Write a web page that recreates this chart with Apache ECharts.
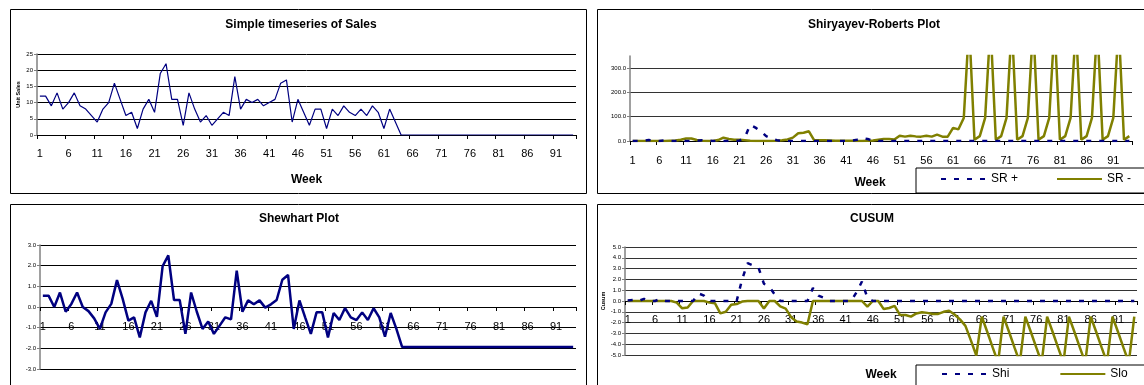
<!DOCTYPE html>
<html>
<head>
<meta charset="utf-8">
<script src="https://cdn.jsdelivr.net/npm/echarts@6/dist/echarts.min.js"></script>
<style>
html,body{margin:0;padding:0;background:#fff;}
#chart{width:1144px;height:385px;}
</style>
</head>
<body>
<div id="chart"></div>
<script>
// ---- Data ----
const weeks = [1,2,3,4,5,6,7,8,9,10,11,12,13,14,15,16,17,18,19,20,21,22,23,24,25,26,27,28,29,30,31,32,33,34,35,36,37,38,39,40,41,42,43,44,45,46,47,48,49,50,51,52,53,54,55,56,57,58,59,60,61,62,63,64,65,66,67,68,69,70,71,72,73,74,75,76,77,78,79,80,81,82,83,84,85,86,87,88,89,90,91,92,93,94];

const sales = [12,12,9,13,8,10,13,9,8,6, 4,8,10,16,11,6,7,2,8,11, 7,19,22,11,11,3,13,8,4,6, 3,5,7,6,18,8,11,10,11,9, 10,11,16,17,4,11,7,3,8,8, 2,8,6,9,7,6,8,6,9,7, 2,8,4,0,0,0,0,0,0,0, 0,0,0,0,0,0,0,0,0,0, 0,0,0,0,0,0,0,0,0,0, 0,0,0,0];

const shewhart = [0.55,0.55,0.0,0.7,-0.23,0.15,0.7,0.0,-0.2,-0.55, -1.06,-0.26,0.15,1.3,0.39,-0.66,-0.5,-1.47,-0.26,0.3, -0.48,1.97,2.5,0.34,0.34,-1.3,0.7,-0.23,-1.06,-0.7, -1.3,-0.9,-0.5,-0.6,1.76,-0.23,0.32,0.13,0.32,-0.03, 0.13,0.34,1.32,1.55,-1.06,0.32,-0.5,-1.3,-0.26,-0.26, -1.47,-0.29,-0.63,-0.05,-0.5,-0.63,-0.26,-0.63,-0.06,-0.5, -1.44,-0.29,-1.06,-1.93,-1.93,-1.93,-1.93,-1.93,-1.93,-1.93, -1.93,-1.93,-1.93,-1.93,-1.93,-1.93,-1.93,-1.93,-1.93,-1.93, -1.93,-1.93,-1.93,-1.93,-1.93,-1.93,-1.93,-1.93,-1.93,-1.93, -1.93,-1.93,-1.93,-1.93];

const srPlus = [0,0,1,4,2,0,2,0,0,0, 0,0,1,3,2,0,0,0,0,0, 2,15,66,55,40,20,10,3,0,0, 0,0,0,0,0,0,0,0,0,0, 0,1,5,12,8,1,0,0,0,0, 0,0,0,0,0,0,0,0,0,0, 0,0,0,0,0,0,0,0,0,0, 0,0,0,0,0,0,0,0,0,0, 0,0,0,0,0,0,0,0,0,0, 0,0,0,0];

const srMinus = [0,0,0,0,0,0,0,1,2,5, 10,10,4,1,0,0,4,14,8,5, 5,3,1,0,0,0,0,1,3,6, 14,32,34,40,3,3,3,2,1,1, 1,1,0,0,1,2,5,8,8,6, 22,18,22,19,18,22,18,26,18,18, 54,48,95,480,5,20,95,480,5,20, 95,480,5,20,95,480,5,20,95,480, 5,20,95,480,5,20,95,480,5,20, 95,480,5,20];

const shi = [0.05,0.1,0,0.2,0,0,0.2,0,0,0, 0,0,0,0.7,0.5,0,0,0,0,0, 0,2.0,3.5,3.3,3.1,1.6,1.3,0.6,0,0, 0,0,0,0,1.2,0.5,0.3,0,0,0, 0,0,0.8,1.8,0.3,0,0,0,0,0, 0,0,0,0,0,0,0,0,0,0, 0,0,0,0,0,0,0,0,0,0, 0,0,0,0,0,0,0,0,0,0, 0,0,0,0,0,0,0,0,0,0, 0,0,0,0];

const slo = [0,0,0,0,0,0,0,0,0,-0.15, -0.68,-0.6,0,0,0,-0.15,-0.2,-1.15,-1.0,-0.35, -0.28,-0.05,0,0,0,-0.7,0,0,-0.5,-0.7, -1.5,-1.9,-2.0,-2.15,0,0,0,0,0,0, 0,0,0,0,-0.52,0,0,-0.75,-0.65,-0.45, -1.3,-1.3,-1.45,-1.15,-1.05,-1.1,-1.2,-1.2,-1.0,-0.9, -1.25,-1.7,-2.3,-3.65,-5.05,-1.45,-2.85,-4.3,-5.7,-1.45, -2.85,-4.3,-5.7,-1.45,-2.85,-4.3,-5.7,-1.45,-2.85,-4.3, -5.7,-1.45,-2.85,-4.3,-5.7,-1.45,-2.85,-4.3,-5.7,-1.45, -2.85,-4.3,-5.7,-1.45];

const yTicksSR = [0,100,200,300];

// ---- Styling ----
const FONT = '"Liberation Sans", Arial, sans-serif';
const NAVY = '#000080';
const OLIVE = '#808000';

// grid boxes (plot areas)
const G = [
  { left: 37, top: 54, width: 539, height: 81 },
  { left: 630, top: 56, width: 502, height: 85 },
  { left: 40, top: 245, width: 536, height: 124 },
  { left: 625, top: 247, width: 512, height: 108 }
];

function xAxisCfg(gridIndex, margin, opts) {
  return Object.assign({
    type: 'category', gridIndex: gridIndex, data: weeks, boundaryGap: true, position: 'bottom',
    axisLine: { show: true, onZero: false, lineStyle: { color: '#000', width: 1 } },
    axisTick: { show: true, interval: 4, length: 4, lineStyle: { color: '#000' } },
    axisLabel: { interval: 4, fontSize: 11, color: '#000', margin: margin, fontFamily: FONT },
    splitLine: { show: false }
  }, opts || {});
}
function yAxisCfg(gridIndex, min, max, interval, digits, gridColor, opts) {
  return Object.assign({
    type: 'value', gridIndex: gridIndex, min: min, max: max, interval: interval,
    axisLine: { show: true, lineStyle: { color: '#808080', width: 1.5 } },
    axisTick: { show: true, length: 3, lineStyle: { color: '#808080' } },
    axisLabel: { fontSize: 6, color: '#000', margin: 4, fontFamily: FONT,
      formatter: v => v.toFixed(digits) },
    splitLine: { show: true, lineStyle: { color: gridColor, width: 1 } }
  }, opts || {});
}

const weekName = (gap, pad) => ({
  name: 'Week', nameLocation: 'middle', nameGap: gap,
  nameTextStyle: { fontSize: 12, fontWeight: 'bold', color: '#000', fontFamily: FONT, padding: pad || 0 }
});

const titleStyle = { fontSize: 12, fontWeight: 'bold', color: '#000', fontFamily: FONT };

const option = {
  backgroundColor: '#fff',
  animation: false,
  textStyle: { fontFamily: FONT },
  title: [
    { text: 'Simple timeseries of Sales', left: 301, top: 19, textAlign: 'center', padding: 0, textStyle: titleStyle },
    { text: 'Shiryayev-Roberts Plot', left: 874, top: 19, textAlign: 'center', padding: 0, textStyle: titleStyle },
    { text: 'Shewhart Plot', left: 299, top: 213, textAlign: 'center', padding: 0, textStyle: titleStyle },
    { text: 'CUSUM', left: 872, top: 213, textAlign: 'center', padding: 0, textStyle: titleStyle }
  ],
  graphic: [
    { type: 'rect', z: -10, shape: { x: 10.5, y: 9.5, width: 576, height: 184 }, style: { fill: 'none', stroke: '#000', lineWidth: 1 } },
    { type: 'rect', z: -10, shape: { x: 597.5, y: 9.5, width: 560, height: 184 }, style: { fill: 'none', stroke: '#000', lineWidth: 1 } },
    { type: 'rect', z: -10, shape: { x: 10.5, y: 204.5, width: 576, height: 200 }, style: { fill: 'none', stroke: '#000', lineWidth: 1 } },
    { type: 'rect', z: -10, shape: { x: 597.5, y: 204.5, width: 560, height: 200 }, style: { fill: 'none', stroke: '#000', lineWidth: 1 } }
  ],
  legend: [
    { data: ['SR +', 'SR -'], left: 916, top: 168, width: 320, orient: 'horizontal',
      itemWidth: 45, itemHeight: 14, itemGap: 38, itemStyle: { opacity: 0 },
      padding: [5, 40, 8, 24], borderColor: '#000', borderWidth: 1, backgroundColor: '#fff',
      textStyle: { fontSize: 12, color: '#000', fontFamily: FONT } },
    { data: ['Shi', 'Slo'], left: 916, top: 365, width: 320, orient: 'horizontal',
      itemWidth: 45, itemHeight: 14, itemGap: 50, itemStyle: { opacity: 0 },
      padding: [3, 40, 20, 25], borderColor: '#000', borderWidth: 1, backgroundColor: '#fff',
      textStyle: { fontSize: 12, color: '#000', fontFamily: FONT } }
  ],
  grid: G.map(g => Object.assign({ outerBoundsMode: 'none', containLabel: false }, g)),
  xAxis: [
    xAxisCfg(0, 13, weekName(39)),
    xAxisCfg(1, 14, weekName(36, [0, 22, 0, 0])),
    // axis line sits on the zero value (half-way down the -3..3 range)
    xAxisCfg(2, 14, { offset: -G[2].height / 2 }),
    // axis line sits on the zero value (half-way down the -5..5 range)
    xAxisCfg(3, 13, Object.assign(weekName(68), { offset: -G[3].height / 2 }))
  ],
  yAxis: [
    yAxisCfg(0, 0, 25, 5, 0, '#000', {
      name: 'Unit Sales', nameLocation: 'middle', nameGap: 16, nameRotate: 90,
      nameTextStyle: { fontSize: 5.5, fontWeight: 'bold', color: '#000', fontFamily: FONT }
    }),
    yAxisCfg(1, 0, 350, 100, 1, '#333', {
      axisTick: { show: true, length: 3, customValues: yTicksSR, lineStyle: { color: '#808080' } },
      axisLabel: { fontSize: 6, color: '#000', margin: 4, fontFamily: FONT,
        customValues: yTicksSR, formatter: v => v.toFixed(1) },
      splitLine: { show: true, lineStyle: { color: '#333', width: 1 } }
    }),
    yAxisCfg(2, -3, 3, 1, 1, '#000'),
    yAxisCfg(3, -5, 5, 1, 1, '#333', {
      name: 'Cusum', nameLocation: 'middle', nameGap: 17, nameRotate: 90,
      nameTextStyle: { fontSize: 5.5, fontWeight: 'bold', color: '#000', fontFamily: FONT }
    })
  ],
  series: [
    { name: 'Sales', type: 'line', xAxisIndex: 0, yAxisIndex: 0, data: sales,
      symbol: 'none', lineStyle: { color: NAVY, width: 1.2 }, itemStyle: { color: NAVY } },
    { name: 'SR -', type: 'line', xAxisIndex: 1, yAxisIndex: 1, data: srMinus, z: 2,
      symbol: 'none', lineStyle: { color: OLIVE, width: 2.5 }, itemStyle: { color: OLIVE } },
    { name: 'SR +', type: 'line', xAxisIndex: 1, yAxisIndex: 1, data: srPlus, z: 3,
      symbol: 'none', lineStyle: { color: NAVY, width: 2.5, type: [5, 8] }, itemStyle: { color: NAVY } },
    { name: 'Shewhart', type: 'line', xAxisIndex: 2, yAxisIndex: 2, data: shewhart,
      symbol: 'none', lineStyle: { color: NAVY, width: 2.5 }, itemStyle: { color: NAVY } },
    { name: 'Slo', type: 'line', xAxisIndex: 3, yAxisIndex: 3, data: slo, z: 2,
      symbol: 'none', lineStyle: { color: OLIVE, width: 2.5 }, itemStyle: { color: OLIVE } },
    { name: 'Shi', type: 'line', xAxisIndex: 3, yAxisIndex: 3, data: shi, z: 3,
      symbol: 'none', lineStyle: { color: NAVY, width: 2.5, type: [5, 8] }, itemStyle: { color: NAVY } }
  ]
};

const chart = echarts.init(document.getElementById('chart'), null, { renderer: 'canvas' });
chart.setOption(option);
</script>
</body>
</html>
